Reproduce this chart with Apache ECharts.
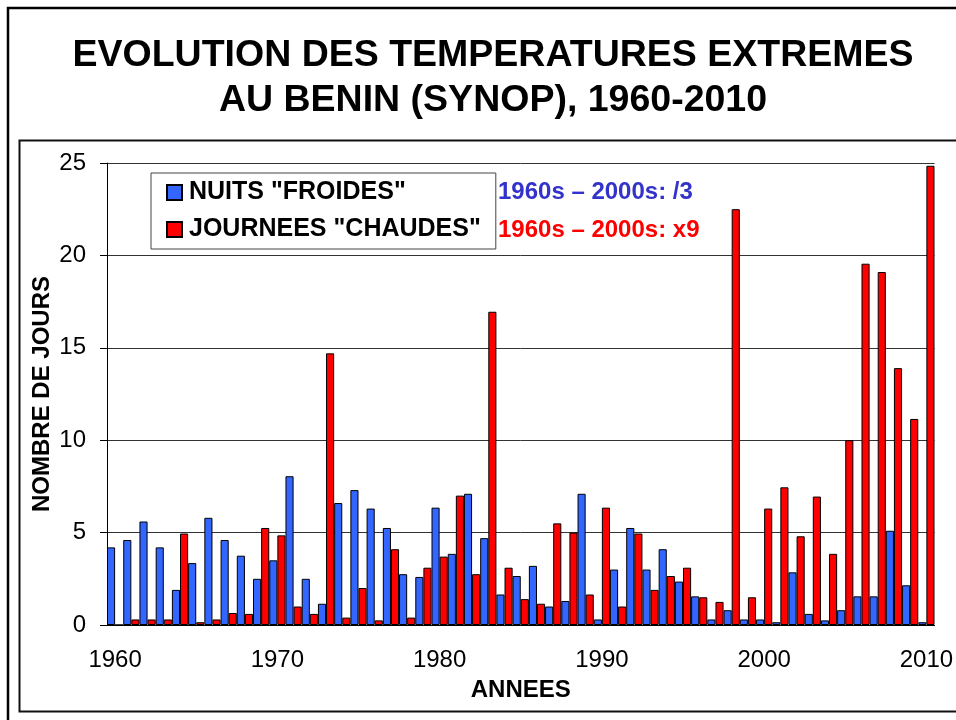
<!DOCTYPE html>
<html>
<head>
<meta charset="utf-8">
<title>Evolution des temperatures extremes au Benin</title>
<script src="https://cdn.jsdelivr.net/npm/echarts@6/dist/echarts.min.js"></script>
<style>
  html, body { margin: 0; padding: 0; background: #fff; }
  #chart { width: 956px; height: 720px; }
</style>
</head>
<body>
<div id="chart"></div>
<script>
// annees 1960 -> 2010
const years = []
for (let y = 1960; y <= 2010; y++) years.push(String(y))

// nombre de nuits "froides" par an
const coldNights = [
  4.2, 4.6, 5.6, 4.2, 1.9, 3.35, 5.8, 4.6, 3.75, 2.5,
  3.5, 8.05, 2.5, 1.15, 6.6, 7.3, 6.3, 5.25, 2.75, 2.6,
  6.35, 3.85, 7.1, 4.7, 1.65, 2.65, 3.2, 1.0, 1.3, 7.1,
  0.3, 3.0, 5.25, 3.0, 4.1, 2.35, 1.55, 0.3, 0.8, 0.3,
  0.3, 0.15, 2.85, 0.6, 0.25, 0.8, 1.55, 1.55, 5.1, 2.15,
  0.15
]

// nombre de journees "chaudes" par an
const hotDays = [
  0, 0.3, 0.3, 0.3, 4.95, 0.15, 0.3, 0.65, 0.6, 5.25,
  4.85, 1.0, 0.6, 14.7, 0.4, 2.0, 0.25, 4.1, 0.4, 3.1,
  3.7, 7.0, 2.75, 16.95, 3.1, 1.4, 1.15, 5.5, 5.0, 1.65,
  6.35, 1.0, 4.95, 1.9, 2.65, 3.1, 1.5, 1.25, 22.5, 1.5,
  6.3, 7.45, 4.8, 6.95, 3.85, 10.0, 19.55, 19.1, 13.9, 11.15,
  24.85
]

const seriesNames = ['NUITS "FROIDES"', 'JOURNEES "CHAUDES"']
const trendNotes = ['1960s \u2013 2000s: /3', '1960s \u2013 2000s: x9']

const FONT = '"Liberation Sans", Arial, sans-serif'

function getOptions () {
  return {
    backgroundColor: '#fff',
    animation: false,
    textStyle: { fontFamily: FONT },
    graphic: [
      {
        type: 'rect',
        shape: { x: 8, y: 8, width: 970, height: 730 },
        style: { fill: 'none', stroke: '#000', lineWidth: 2.5 },
        z: -10
      },
      {
        type: 'rect',
        shape: { x: 19.5, y: 140.5, width: 960, height: 571 },
        style: { fill: 'none', stroke: '#111', lineWidth: 2 },
        z: -10
      },
      {
        type: 'text',
        x: 493,
        y: 56,
        style: {
          text: 'EVOLUTION DES TEMPERATURES EXTREMES',
          font: 'bold 37.5px ' + FONT,
          fill: '#000',
          textAlign: 'center',
          textVerticalAlign: 'middle'
        }
      },
      {
        type: 'text',
        x: 493,
        y: 101,
        style: {
          text: 'AU BENIN (SYNOP), 1960-2010',
          font: 'bold 37.5px ' + FONT,
          fill: '#000',
          textAlign: 'center',
          textVerticalAlign: 'middle'
        }
      },
      {
        type: 'text',
        x: 498,
        y: 192,
        style: {
          text: trendNotes[0],
          font: 'bold 24px ' + FONT,
          fill: '#3333CC',
          textVerticalAlign: 'middle'
        }
      },
      {
        type: 'text',
        x: 498,
        y: 230,
        style: {
          text: trendNotes[1],
          font: 'bold 24px ' + FONT,
          fill: '#FF0000',
          textVerticalAlign: 'middle'
        }
      }
    ],
    legend: {
      orient: 'vertical',
      left: 151,
      top: 173,
      padding: [7, 15, 7, 15],
      itemWidth: 15,
      itemHeight: 15,
      itemGap: 12,
      borderColor: '#444',
      borderWidth: 1,
      backgroundColor: '#fff',
      icon: 'rect',
      textStyle: {
        fontSize: 25,
        fontWeight: 'bold',
        color: '#000',
        fontFamily: FONT,
        padding: [0, 0, 0, 2]
      },
      data: seriesNames
    },
    grid: {
      left: 107,
      right: 13,
      top: 163,
      bottom: 95,
      containLabel: false
    },
    xAxis: {
      type: 'category',
      data: years,
      name: 'ANNEES',
      nameLocation: 'middle',
      nameGap: 53,
      nameMoveOverlap: false,
      nameTextStyle: {
        fontSize: 24,
        fontWeight: 'bold',
        color: '#000'
      },
      axisLine: { lineStyle: { color: '#000', width: 1 } },
      axisTick: {
        interval: 0,
        length: 7,
        lineStyle: { color: '#666' }
      },
      axisLabel: {
        interval: 9,
        fontSize: 24,
        color: '#000',
        margin: 23
      }
    },
    yAxis: {
      type: 'value',
      min: 0,
      max: 25,
      interval: 5,
      name: 'NOMBRE DE JOURS',
      nameLocation: 'middle',
      nameRotate: 90,
      nameGap: 53,
      nameMoveOverlap: false,
      nameTextStyle: {
        fontSize: 24,
        fontWeight: 'bold',
        color: '#000'
      },
      axisLine: { show: true, lineStyle: { color: '#000', width: 1 } },
      axisTick: { show: true, length: 7, lineStyle: { color: '#000' } },
      axisLabel: { fontSize: 24, color: '#000', margin: 21 },
      splitLine: { lineStyle: { color: '#333', width: 1 } }
    },
    series: [
      {
        name: seriesNames[0],
        type: 'bar',
        data: coldNights,
        barGap: '0%',
        barCategoryGap: '0%',
        itemStyle: { color: '#3366FF', borderColor: '#000', borderWidth: 1 }
      },
      {
        name: seriesNames[1],
        type: 'bar',
        data: hotDays,
        barGap: '0%',
        barCategoryGap: '0%',
        itemStyle: { color: '#FF0000', borderColor: '#000', borderWidth: 1 }
      }
    ]
  }
}

const chart = echarts.init(document.getElementById('chart'))
chart.setOption(getOptions())
</script>
</body>
</html>
